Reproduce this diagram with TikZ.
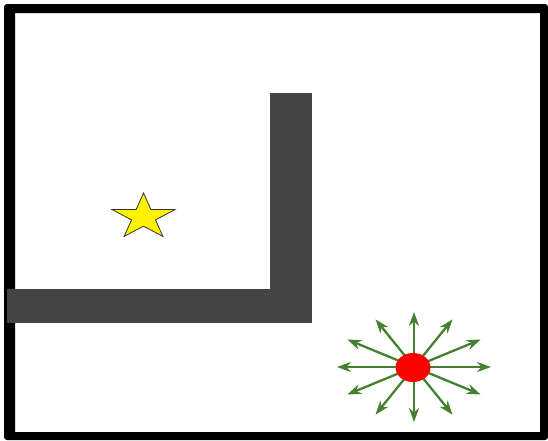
\documentclass[tikz,border=0pt]{standalone}
\usetikzlibrary{arrows.meta}
\definecolor{wallgray}{HTML}{444444}
\definecolor{arrowgreen}{HTML}{44802F}
\definecolor{staryellow}{HTML}{FFF200}
\begin{document}
\begin{tikzpicture}[x=1pt,y=-1pt,
  wall/.style={fill=wallgray},
  rayarrow/.style={draw=arrowgreen,line width=2.3pt,-{Stealth[length=14pt,width=10pt]}}]
\useasboundingbox (0,0) rectangle (548,440);
\fill[white] (0,0) rectangle (548,440);
% frame
\fill[black,even odd rule] [rounded corners=3pt] (4,4) -- (548,4) -- (548,440) -- (4,440) -- cycle
  [sharp corners] (15,13) rectangle (540,432);
% walls
\fill[wall] (7,289) rectangle (312,323);
\fill[wall] (270,93) rectangle (312,323);
% star
\filldraw[fill=staryellow,draw=black!80,line width=0.8pt]
  plot[samples at={0,...,9},variable=\k]
  ({143.5+ifthenelse(mod(\k,2)==0,33,12.6)*cos(-90+36*\k)},
   {217+ifthenelse(mod(\k,2)==0,24,9.2)*sin(-90+36*\k)}) -- cycle;
% source and rays
\coordinate (src) at (414,367);
\foreach \a in {0,30,...,330}
  \draw[rayarrow] (src) -- ++({77*cos(\a)},{55*sin(\a)});
\fill[red] (413,367.5) ellipse [x radius=17.5,y radius=14.5];
\end{tikzpicture}
\end{document}
